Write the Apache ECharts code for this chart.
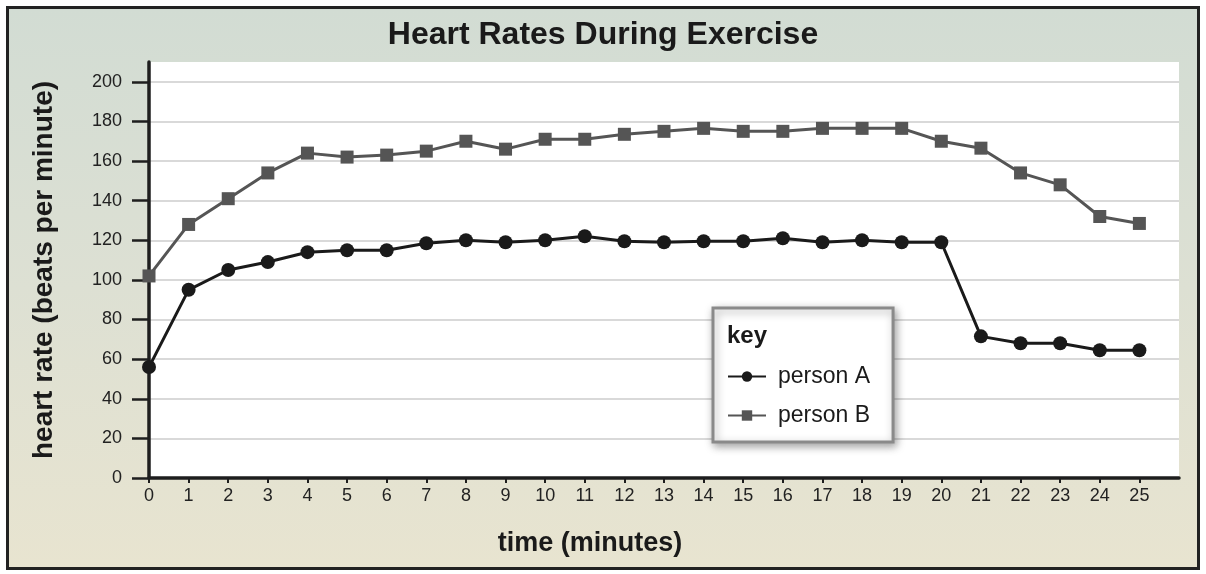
<!DOCTYPE html>
<html>
<head>
<meta charset="utf-8">
<title>Heart Rates During Exercise</title>
<script src="https://cdn.jsdelivr.net/npm/echarts@6/dist/echarts.min.js"></script>
<style>
  html, body { margin: 0; padding: 0; background: #fff; }
  #frame {
    position: absolute; left: 6px; top: 6px; width: 1188px; height: 558px;
    border: 3px solid #222;
    background: linear-gradient(to bottom, #d2dcd3 0%, #dde0d3 50%, #e8e4d0 100%);
  }
  #main { position: absolute; left: 0; top: 0; width: 1206px; height: 574px; }
</style>
</head>
<body>
<div id="frame"></div>
<div id="main"></div>
<script>
// time in minutes
var minutes = [0,1,2,3,4,5,6,7,8,9,10,11,12,13,14,15,16,17,18,19,20,21,22,23,24,25];
// heart rate, beats per minute
var personA = [56,95,105,109,114,115,115,118.5,120,119,120,122,119.5,119,119.5,119.5,121,119,120,119,119,71.5,68,68,64.5,64.5];
var personB = [102,128,141,154,164,162,163,165,170,166,171,171,173.5,175,176.5,175,175,176.5,176.5,176.5,170,166.5,154,148,132,128.5];
var yTicks = [0,20,40,60,80,100,120,140,160,180,200];

var FONT = 'Liberation Sans, Arial, sans-serif';

function pairs(vals) {
  return vals.map(function (v, i) { return [minutes[i], v]; });
}

var chart = echarts.init(document.getElementById('main'));
var option = {
  backgroundColor: 'transparent',
  animation: false,
  textStyle: { fontFamily: FONT },
  title: [
    {
      text: 'Heart Rates During Exercise',
      left: 'center', top: 14,
      textStyle: { fontSize: 32, fontWeight: 'bold', color: '#1a1a1a', fontFamily: FONT }
    },
    {
      text: 'key',
      left: 722, top: 319,
      textStyle: { fontSize: 24, fontWeight: 'bold', color: '#1a1a1a', fontFamily: FONT }
    }
  ],
  legend: {
    orient: 'vertical',
    left: 713, top: 308,
    padding: [57, 23, 15, 14],
    itemGap: 16,
    itemWidth: 38, itemHeight: 13,
    backgroundColor: '#fff',
    borderColor: '#8a8a8a', borderWidth: 3,
    shadowColor: 'rgba(0,0,0,0.35)', shadowBlur: 8, shadowOffsetX: 2, shadowOffsetY: 3,
    textStyle: { fontSize: 23, color: '#1a1a1a', fontFamily: FONT, padding: [0, 0, 0, 7] },
    data: ['person A', 'person B']
  },
  grid: {
    left: 149, top: 62, right: 27, bottom: 96,
    show: true, backgroundColor: '#fff', borderWidth: 0
  },
  xAxis: {
    type: 'value',
    min: 0, max: 26, interval: 1,
    name: 'time (minutes)',
    nameLocation: 'middle', nameGap: 52,
    nameTextStyle: { fontSize: 27, fontWeight: 'bold', color: '#1a1a1a', fontFamily: FONT, padding: [0, 148, 0, 0] },
    axisLine: { lineStyle: { color: '#1e1e1e', width: 3.5 } },
    axisTick: { length: 5, lineStyle: { color: '#1e1e1e', width: 2 }, customValues: minutes },
    axisLabel: { fontSize: 18, color: '#222', margin: 9, fontFamily: FONT, customValues: minutes },
    splitLine: { show: false }
  },
  yAxis: {
    type: 'value',
    min: 0, max: 210, interval: 20,
    name: 'heart rate (beats per minute)',
    nameLocation: 'middle', nameGap: 91, nameRotate: 90,
    nameTextStyle: { fontSize: 28, fontWeight: 'bold', color: '#1a1a1a', fontFamily: FONT },
    axisLine: { show: true, lineStyle: { color: '#1e1e1e', width: 3.5 } },
    axisTick: { show: true, length: 17, lineStyle: { color: '#1e1e1e', width: 2.5 }, customValues: yTicks },
    axisLabel: { fontSize: 18, color: '#222', margin: 27, fontFamily: FONT, customValues: yTicks },
    splitLine: { show: true, lineStyle: { color: '#d9d9d9', width: 2 } }
  },
  series: [
    {
      name: 'person A',
      type: 'line',
      data: pairs(personA),
      symbol: 'circle', symbolSize: 14,
      lineStyle: { color: '#1a1a1a', width: 3 },
      itemStyle: { color: '#1a1a1a' },
      z: 3
    },
    {
      name: 'person B',
      type: 'line',
      data: pairs(personB),
      symbol: 'rect', symbolSize: 13,
      lineStyle: { color: '#555', width: 3 },
      itemStyle: { color: '#555' },
      z: 2
    }
  ]
};
chart.setOption(option);
</script>
</body>
</html>
